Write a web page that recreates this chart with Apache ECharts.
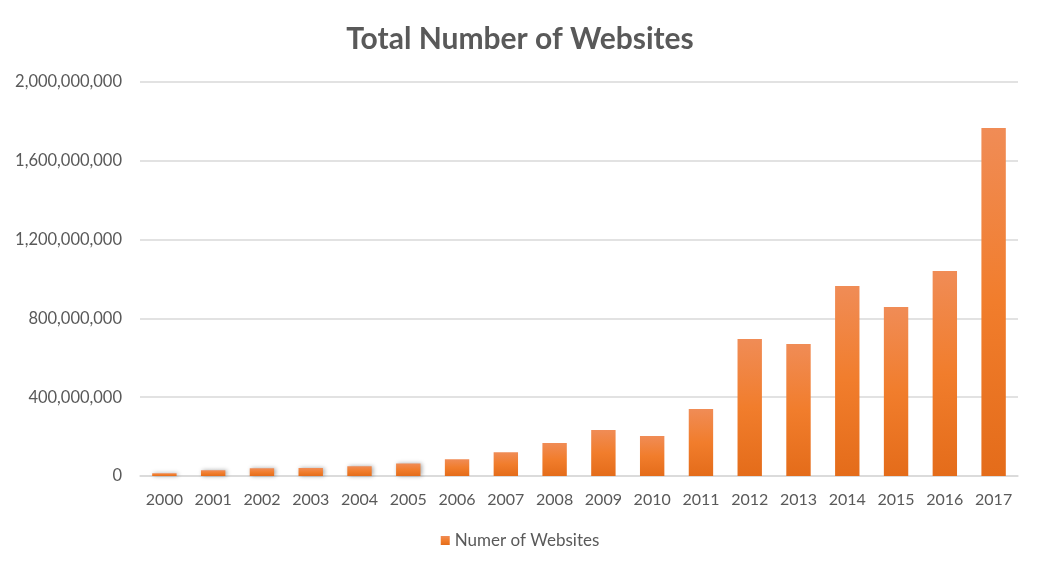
<!DOCTYPE html>
<html>
<head>
<meta charset="utf-8">
<script src="https://cdn.jsdelivr.net/npm/echarts@6/dist/echarts.min.js"></script>
<style>
	html, body { margin: 0; padding: 0; background: #fff; }
	#main { width: 1040px; height: 573px; }
</style>
</head>
<body>
<div id="main"></div>
<script>
// 年份
var years = ['2000', '2001', '2002', '2003', '2004', '2005', '2006', '2007', '2008',
	'2009', '2010', '2011', '2012', '2013', '2014', '2015', '2016', '2017'];
// 网站总数
var websites = [14000000, 29000000, 39000000, 40000000, 50000000, 64000000, 85000000,
	120000000, 168000000, 234000000, 203000000, 340000000, 695000000, 670000000,
	964000000, 858000000, 1041000000, 1766000000];
// y轴刻度
var yMin = 0;
var yMax = 2000000000;
var yStep = 400000000;

function fmt(v) {
	return String(v).replace(/\B(?=(\d{3})+(?!\d))/g, ',');
}

var myChart = echarts.init(document.getElementById('main'));
var option = {
	backgroundColor : '#ffffff',
	textStyle : {
		fontFamily : 'Lato'
	},
	title : {
		text : 'Total Number of Websites',
		left : 'center',
		top : 19,
		textStyle : {
			fontFamily : 'Lato',
			fontSize : 30,
			fontWeight : 'bold',
			color : '#595959'
		}
	},
	legend : {
		data : ['Numer of Websites'],
		bottom : 19,
		left : 'center',
		itemWidth : 9,
		itemHeight : 9,
		itemGap : 7,
		icon : 'rect',
		textStyle : {
			fontFamily : 'Lato',
			fontSize : 17,
			color : '#595959'
		}
	},
	grid : {
		left : 140,
		right : 22,
		top : 82,
		bottom : 97,
		containLabel : false
	},
	xAxis : {
		type : 'category',
		data : years,
		axisLine : {
			lineStyle : { color : '#d9d9d9', width : 1.5 }
		},
		axisTick : { show : false },
		axisLabel : {
			margin : 16,
			fontFamily : 'Lato',
			fontSize : 16,
			color : '#595959'
		}
	},
	yAxis : {
		type : 'value',
		min : yMin,
		max : yMax,
		interval : yStep,
		axisLine : { show : false },
		axisTick : { show : false },
		splitLine : {
			lineStyle : { color : '#d9d9d9', width : 1.5 }
		},
		axisLabel : {
			margin : 18,
			fontFamily : 'Lato',
			fontSize : 16.5,
			color : '#595959',
			formatter : fmt
		}
	},
	series : [ {
		name : 'Numer of Websites',
		type : 'bar',
		data : websites,
		barWidth : '50%',
		itemStyle : {
			color : new echarts.graphic.LinearGradient(0, 0, 0, 1, [
				{ offset : 0, color : '#f08c56' },
				{ offset : 0.5, color : '#f17d2c' },
				{ offset : 1, color : '#e46c1a' }
			]),
			shadowColor : 'rgba(0,0,0,0.35)',
			shadowBlur : 4,
			shadowOffsetX : 1.5,
			shadowOffsetY : 0
		}
	} ]
};
myChart.setOption(option);
</script>
</body>
</html>
